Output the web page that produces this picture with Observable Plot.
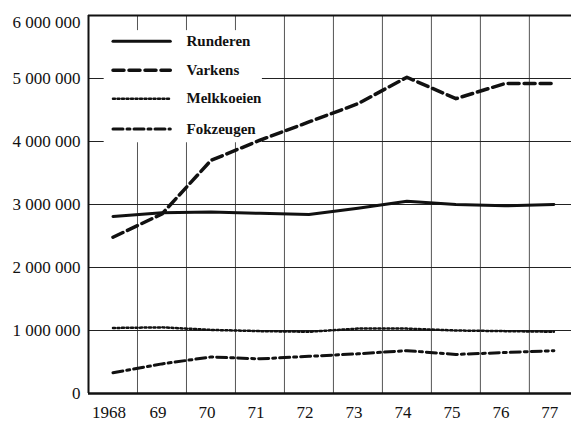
<!DOCTYPE html>
<html>
<head>
<meta charset="utf-8">
<script src="https://cdn.jsdelivr.net/npm/d3@7"></script>
<script src="https://cdn.jsdelivr.net/npm/@observablehq/plot@0.6"></script>
<style>
  html, body { margin: 0; padding: 0; background: #fff; }
  #chart { width: 571px; height: 422px; overflow: hidden; }
</style>
</head>
<body>
<div id="chart"></div>
<script>
// ---- data ----
const years = [1968, 1969, 1970, 1971, 1972, 1973, 1974, 1975, 1976, 1977];
const yearLabels = ["1968", "69", "70", "71", "72", "73", "74", "75", "76", "77"];
const runderen   = [2810000, 2870000, 2880000, 2860000, 2840000, 2940000, 3050000, 3000000, 2980000, 3000000];
const varkens    = [2480000, 2850000, 3700000, 4020000, 4310000, 4600000, 5020000, 4680000, 4920000, 4920000];
const melkkoeien = [1040000, 1050000, 1010000, 990000, 980000, 1030000, 1030000, 1000000, 990000, 980000];
const fokzeugen  = [330000, 470000, 580000, 550000, 590000, 630000, 680000, 620000, 650000, 680000];
const seriesNames = ["Runderen", "Varkens", "Melkkoeien", "Fokzeugen"];
const yTicks = [0, 1000000, 2000000, 3000000, 4000000, 5000000, 6000000];

// ---- styles ----
const seriesStyles = {
  Runderen:   {strokeWidth: 3,   strokeDasharray: null},
  Varkens:    {strokeWidth: 3.5, strokeDasharray: "11,5"},
  Melkkoeien: {strokeWidth: 2.5, strokeDasharray: "2,2.5"},
  Fokzeugen:  {strokeWidth: 3,   strokeDasharray: "10,4,3,4"}
};
const seriesValues = {Runderen: runderen, Varkens: varkens, Melkkoeien: melkkoeien, Fokzeugen: fokzeugen};

// legend placement (in chart units)
const legendLineX = [1968.0, 1969.17];
const legendTextX = 1969.5;
const legendRowY = [5590000, 5130000, 4680000, 4200000];
const legendBox = {x1: 1967.82, x2: 1971.05, y1: 3980000, y2: 5760000};

const table = seriesNames.flatMap(name =>
  years.map((year, i) => ({series: name, year, value: seriesValues[name][i]})));

const legendItems = seriesNames.map((name, i) => ({name, y: legendRowY[i]}));
const legendSegs = legendItems.flatMap(d => legendLineX.map(x => ({name: d.name, x, y: d.y})));

const fmt = d => d3.format(",")(d).replace(/,/g, " ");
const gridX = years.slice(0, -1).map(y => y + 0.5);

const marks = [
  Plot.ruleX(gridX, {stroke: "#555", strokeWidth: 1}),
  Plot.ruleY([1000000, 2000000, 3000000, 4000000, 5000000], {stroke: "#222", strokeWidth: 1}),
  Plot.rect([legendBox], {x1: "x1", x2: "x2", y1: "y1", y2: "y2", fill: "white"}),
];
for (const name of seriesNames) {
  const s = seriesStyles[name];
  marks.push(Plot.line(legendSegs.filter(d => d.name === name), {
    x: "x", y: "y", stroke: "#111", strokeWidth: s.strokeWidth, strokeDasharray: s.strokeDasharray
  }));
}
marks.push(Plot.text(legendItems, {
  x: () => legendTextX, y: "y", text: "name", textAnchor: "start",
  fontWeight: "bold", fontSize: 15, fill: "#111"
}));
for (const name of seriesNames) {
  const s = seriesStyles[name];
  marks.push(Plot.line(table.filter(d => d.series === name), {
    x: "year", y: "value", stroke: "#111", strokeWidth: s.strokeWidth,
    strokeDasharray: s.strokeDasharray, strokeLinejoin: "round"
  }));
}
marks.push(
  Plot.ruleY([6000000], {stroke: "#111", strokeWidth: 2}),
  Plot.ruleY([0], {stroke: "#111", strokeWidth: 2.5}),
  Plot.ruleX([1967.5], {stroke: "#111", strokeWidth: 2}),
  Plot.axisY(yTicks.slice(0, -1), {tickSize: 0, tickPadding: 8, tickFormat: fmt, label: null}),
  Plot.axisY(yTicks.slice(-1), {tickSize: 0, tickPadding: 8, dy: 7, tickFormat: fmt, label: null}),
  Plot.axisX(years, {tickSize: 0, tickPadding: 12, dx: -4,
    tickFormat: d => yearLabels[years.indexOf(d)], label: null})
);

const chart = Plot.plot({
  width: 571,
  height: 422,
  marginLeft: 88,
  marginRight: 0,
  marginTop: 15,
  marginBottom: 29,
  style: {fontFamily: "'Liberation Serif', 'Times New Roman', serif", fontSize: "17px", color: "#111", background: "white"},
  x: {domain: [1967.5, 1977.36], label: null},
  y: {domain: [0, 6000000], label: null},
  marks
});
document.getElementById("chart").appendChild(chart);
</script>
</body>
</html>
